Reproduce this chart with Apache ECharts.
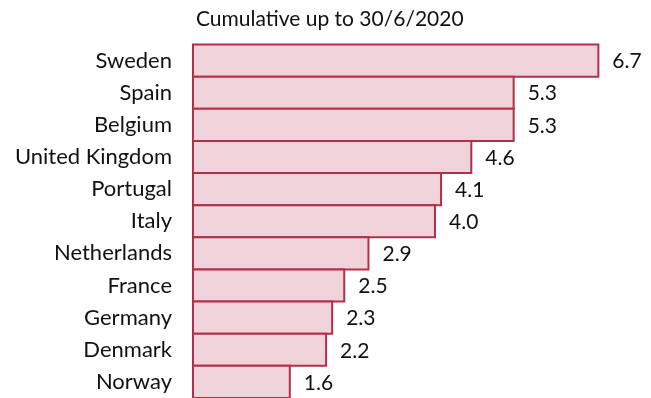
<!DOCTYPE html>
<html>
<head>
<meta charset="utf-8">
<script src="https://cdn.jsdelivr.net/npm/echarts@6/dist/echarts.min.js"></script>
<style>
  html, body { margin: 0; padding: 0; background: #fff; }
  #chart { width: 651px; height: 398px; }
</style>
</head>
<body>
<div id="chart"></div>
<script>
// Countries, top to bottom
const countries = ['Sweden', 'Spain', 'Belgium', 'United Kingdom', 'Portugal', 'Italy',
  'Netherlands', 'France', 'Germany', 'Denmark', 'Norway'];
// Cumulative values up to 30/6/2020
const values = [6.7, 5.3, 5.3, 4.6, 4.1, 4.0, 2.9, 2.5, 2.3, 2.2, 1.6];

const titleText = 'Cumulative up to 30/6/2020';
const font = 'Lato, "Open Sans", sans-serif';
const fill = '#efd3d9';
const edge = '#b32e4b';

// Bars touch each other; the outline is drawn centred on the band edges so
// neighbouring bars share a single 2px line.
function renderBar(params, api) {
  const idx = api.value(1);
  const val = api.value(0);
  const start = api.coord([0, idx]);
  const end = api.coord([val, idx]);
  const band = api.size([0, 1])[1];
  return {
    type: 'group',
    children: [
      {
        type: 'rect',
        shape: { x: start[0], y: start[1] - band / 2, width: end[0] - start[0], height: band },
        style: { fill: fill, stroke: edge, lineWidth: 2 }
      },
      {
        type: 'text',
        style: {
          text: val.toFixed(1),
          x: end[0] + 14,
          y: end[1] + 1,
          verticalAlign: 'middle',
          align: 'left',
          font: '21px ' + font,
          fill: '#111'
        }
      }
    ]
  };
}

const chart = echarts.init(document.getElementById('chart'));
chart.setOption({
  animation: false,
  backgroundColor: '#ffffff',
  title: {
    text: titleText,
    left: 191,
    top: 4,
    textStyle: { fontFamily: font, fontWeight: 'normal', fontSize: 21, color: '#111' }
  },
  grid: { left: 193, right: 34.5, top: 44.5, bottom: -2.4, containLabel: false },
  xAxis: {
    type: 'value', min: 0, max: 7,
    show: false
  },
  yAxis: {
    type: 'category',
    data: countries,
    inverse: true,
    axisLine: { show: false },
    axisTick: { show: false },
    axisLabel: { margin: 21, fontFamily: font, fontSize: 22, color: '#111' }
  },
  series: [{
    type: 'custom',
    renderItem: renderBar,
    clip: false,
    encode: { x: 0, y: 1 },
    data: values.map((v, i) => [v, i])
  }]
});
</script>
</body>
</html>
